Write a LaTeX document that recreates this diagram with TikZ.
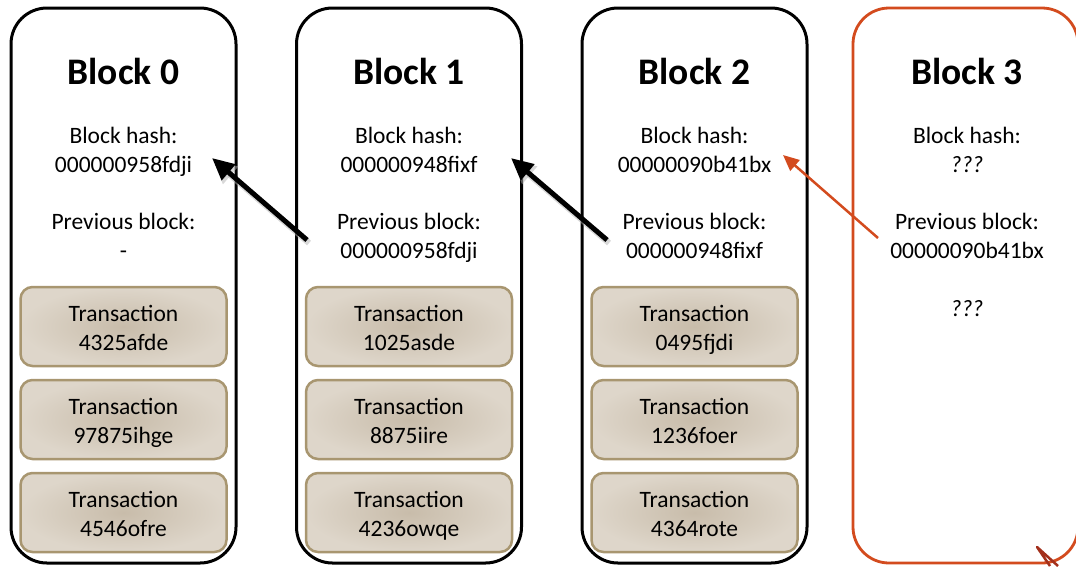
\documentclass[tikz,border=0pt]{standalone}
\usepackage{fontspec}
\setmainfont{Carlito}
\usetikzlibrary{arrows.meta}
\definecolor{orng}{RGB}{211,75,30}
\definecolor{darkred}{RGB}{163,48,28}
\definecolor{txborder}{RGB}{168,150,112}
\definecolor{txin}{RGB}{200,188,170}
\definecolor{txout}{RGB}{222,214,202}
\newcommand{\twoln}[2]{\strut #1\\\strut #2}
\tikzset{
  blockbox/.style={draw=black, line width=3pt, rounded corners=36pt, minimum width=225pt, minimum height=555pt, inner sep=0pt},
  newblockbox/.style={blockbox, draw=orng, line width=2.8pt},
  title/.style={font=\fontsize{37.5}{40}\selectfont\bfseries},
  info/.style={font=\fontsize{23.5}{29}\selectfont, align=center, inner sep=0pt},
  txbox/.style={draw=txborder, line width=2.5pt, rounded corners=12pt, minimum width=206pt, minimum height=79pt, inner sep=0pt,
    inner color=txin, outer color=txout},
  txtext/.style={font=\fontsize{23.5}{29}\selectfont, align=center, inner sep=0pt},
  chainarrow/.style={line width=5pt, -{Triangle[length=22pt,width=20pt]}},
  shadowarrow/.style={line width=6pt, draw=black!30, opacity=0.5, -{Triangle[length=22pt,width=22pt]}},
  newarrow/.style={draw=orng, line width=2.5pt, -{Triangle[length=16pt,width=14pt]}},
}
\begin{document}
\begin{tikzpicture}[x=1pt,y=-1pt]
\clip (0,0) rectangle (1076,566);
\fill[white] (0,0) rectangle (1076,566);
% blocks
\node[blockbox] (b0) at (123.5,285.5) {};
\node[blockbox] (b1) at (409,285.5) {};
\node[blockbox] (b2) at (694.5,285.5) {};
\node[newblockbox] (b3) at (965.5,285.5) {};
% titles
\node[title] (t0) at (123.5,71) {Block 0};
\node[title] (t1) at (409,71) {Block 1};
\node[title] (t2) at (694.5,71) {Block 2};
\node[title] (t3) at (967,71) {Block 3};
% hashes
\node[info] (h0) at (123.5,152) {\twoln{Block hash:}{000000958fdji}};
\node[info] (h1) at (409,152) {\twoln{Block hash:}{000000948fixf}};
\node[info] (h2) at (694.5,152) {\twoln{Block hash:}{00000090b41bx}};
\node[info] (h3) at (967,152) {\twoln{Block hash:}{\textit{???}}};
% previous
\node[info] (p0) at (123.5,238) {\twoln{Previous block:}{-}};
\node[info] (p1) at (409,238) {\twoln{Previous block:}{000000958fdji}};
\node[info] (p2) at (694.5,238) {\twoln{Previous block:}{000000948fixf}};
\node[info] (p3) at (967,238) {\twoln{Previous block:}{00000090b41bx}};
\node[info] (q3) at (967,311) {\strut\textit{???}};
% transactions
\node[txbox] (x00) at (123.5,326.5) {};
\node[txbox] (x01) at (123.5,419.5) {};
\node[txbox] (x02) at (123.5,512.5) {};
\node[txbox] (x10) at (409,326.5) {};
\node[txbox] (x11) at (409,419.5) {};
\node[txbox] (x12) at (409,512.5) {};
\node[txbox] (x20) at (694.5,326.5) {};
\node[txbox] (x21) at (694.5,419.5) {};
\node[txbox] (x22) at (694.5,512.5) {};
\node[txtext] (y00) at ([yshift=-4pt]x00.center) {\twoln{Transaction}{4325afde}};
\node[txtext] (y01) at ([yshift=-4pt]x01.center) {\twoln{Transaction}{97875ihge}};
\node[txtext] (y02) at ([yshift=-4pt]x02.center) {\twoln{Transaction}{4546ofre}};
\node[txtext] (y10) at ([yshift=-4pt]x10.center) {\twoln{Transaction}{1025asde}};
\node[txtext] (y11) at ([yshift=-4pt]x11.center) {\twoln{Transaction}{8875iire}};
\node[txtext] (y12) at ([yshift=-4pt]x12.center) {\twoln{Transaction}{4236owqe}};
\node[txtext] (y20) at ([yshift=-4pt]x20.center) {\twoln{Transaction}{0495fjdi}};
\node[txtext] (y21) at ([yshift=-4pt]x21.center) {\twoln{Transaction}{1236foer}};
\node[txtext] (y22) at ([yshift=-4pt]x22.center) {\twoln{Transaction}{4364rote}};
% arrow endpoints
\coordinate (a1s) at (307,240);
\coordinate (a1e) at (212,158);
\coordinate (a2s) at (607,240);
\coordinate (a2e) at (511,158);
\coordinate (a3s) at (878,238);
\coordinate (a3e) at (783,155);
\draw[shadowarrow] ([shift={(2,3)}]a1s) -- ([shift={(2,3)}]a1e);
\draw[shadowarrow] ([shift={(2,3)}]a2s) -- ([shift={(2,3)}]a2e);
\draw[chainarrow] (a1s) -- (a1e);
\draw[chainarrow] (a2s) -- (a2e);
\draw[newarrow] (a3s) -- (a3e);
% small artifact at bottom right
\coordinate (v0) at (1037,547);
\coordinate (v1) at (1050,566);
\coordinate (v2) at (1058,566);
\draw[darkred, line width=2.5pt, line join=round] (v1) -- (v0) -- (v2);
\end{tikzpicture}
\end{document}
